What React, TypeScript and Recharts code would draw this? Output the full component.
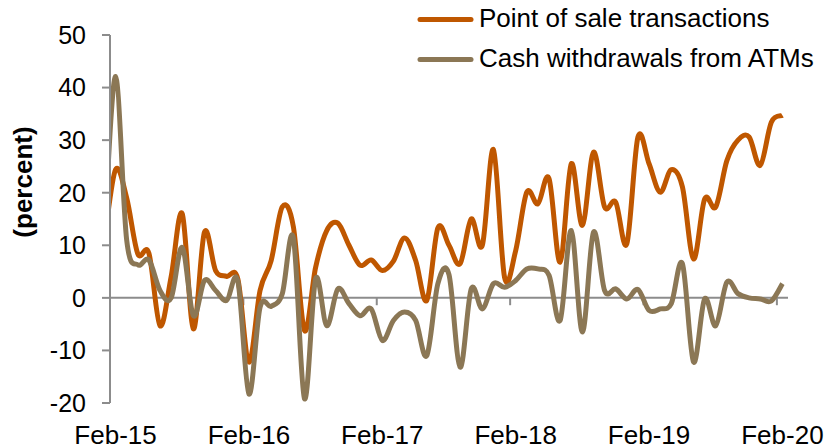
import { LineChart, Line, XAxis, YAxis, Legend, ReferenceLine } from 'recharts';

// Jan-15 .. Feb-20 (Jan-15 sits left of the axis and is clipped away)
const months = [
  'Jan-15', 'Feb-15', 'Mar-15', 'Apr-15', 'May-15', 'Jun-15', 'Jul-15', 'Aug-15', 'Sep-15', 'Oct-15', 'Nov-15', 'Dec-15',
  'Jan-16', 'Feb-16', 'Mar-16', 'Apr-16', 'May-16', 'Jun-16', 'Jul-16', 'Aug-16', 'Sep-16', 'Oct-16', 'Nov-16', 'Dec-16',
  'Jan-17', 'Feb-17', 'Mar-17', 'Apr-17', 'May-17', 'Jun-17', 'Jul-17', 'Aug-17', 'Sep-17', 'Oct-17', 'Nov-17', 'Dec-17',
  'Jan-18', 'Feb-18', 'Mar-18', 'Apr-18', 'May-18', 'Jun-18', 'Jul-18', 'Aug-18', 'Sep-18', 'Oct-18', 'Nov-18', 'Dec-18',
  'Jan-19', 'Feb-19', 'Mar-19', 'Apr-19', 'May-19', 'Jun-19', 'Jul-19', 'Aug-19', 'Sep-19', 'Oct-19', 'Nov-19', 'Dec-19',
  'Jan-20', 'Feb-20',
];

const pointOfSale = [
  11, 24.4, 19, 8.4, 8.5, -5.3, 4, 16, -5.9, 12.5, 5.2, 4.1,
  3.6, -12.2, 1.4, 7.1, 17.3, 13.5, -6.2, 5.8, 12.8, 14.2, 10, 6.2,
  7.2, 5.2, 7, 11.4, 7.1, -0.5, 13.3, 10, 6.5, 15, 10, 28.2,
  3.9, 9, 20.1, 17.9, 22.7, 6.8, 25.5, 13.8, 27.7, 17.3, 18.2, 10.3,
  30.6, 25.5, 20.1, 24.4, 21.1, 7.4, 18.8, 17.3, 26.1, 30, 30.6, 25.2,
  33.4, 34.7,
];

const atmWithdrawals = [
  12, 42.1, 11, 6.3, 7.2, 1.4, 0, 9.6, -3.4, 3.3, 1.4, -0.5,
  3.2, -18.3, -1.8, -1.6, 0.8, 11.4, -19.2, 3.6, -5.3, 1.7, -1.1, -3.4,
  -2.1, -8.1, -4.3, -2.7, -4.3, -11, 2.7, 4.4, -13.2, 1.7, -2.1, 2.7,
  2, 3.3, 5.5, 5.5, 4.3, -4.3, 12.8, -6.5, 12.5, 1.4, 1.7, -0.2,
  1.6, -2.4, -2.1, -1.1, 6.5, -12.2, -0.2, -5.3, 3, 0.8, 0, -0.2,
  -0.6, 2.7,
];

const seriesNames = ['Point of sale transactions', 'Cash withdrawals from ATMs'];
const yTicks = [-20, -10, 0, 10, 20, 30, 40, 50];
const xTickLabels = ['Feb-15', 'Feb-16', 'Feb-17', 'Feb-18', 'Feb-19', 'Feb-20'];
const xTickValues = [0, 12, 24, 36, 48, 60];
// category boundaries where Excel puts the small tick marks
const xTickMarks = [-0.5, 11.5, 23.5, 35.5, 47.5, 59.5];

const data = months.map((m, i) => ({
  idx: i - 1,
  month: m,
  pos: pointOfSale[i],
  atm: atmWithdrawals[i],
}));

const FONT = '"Liberation Sans", Arial, Helvetica, sans-serif';
const AXIS = '#8c8c8c';

// Excel-style smoothed line (Catmull-Rom as cubic bezier)
function excelSmooth(context: any) {
  let pts: number[][] = [];
  return {
    areaStart() {},
    areaEnd() {},
    lineStart() {
      pts = [];
    },
    point(x: number, y: number) {
      pts.push([+x, +y]);
    },
    lineEnd() {
      if (!pts.length) return;
      context.moveTo(pts[0][0], pts[0][1]);
      for (let i = 0; i < pts.length - 1; i++) {
        const p0 = pts[i - 1] || pts[i];
        const p1 = pts[i];
        const p2 = pts[i + 1];
        const p3 = pts[i + 2] || p2;
        context.bezierCurveTo(
          p1[0] + (p2[0] - p0[0]) / 6,
          p1[1] + (p2[1] - p0[1]) / 6,
          p2[0] - (p3[0] - p1[0]) / 6,
          p2[1] - (p3[1] - p1[1]) / 6,
          p2[0],
          p2[1],
        );
      }
    },
  };
}

function XTick(props: any) {
  const { x, y, payload } = props;
  const label = xTickLabels[xTickValues.indexOf(payload.value)];
  return (
    <text x={x} y={y + 40.5} textAnchor="middle" fontSize={26} fill="#000" fontFamily={FONT}>
      {label}
    </text>
  );
}

function LegendBox(props: any) {
  const items = [...(props.payload || [])].sort(
    (a: any, b: any) => seriesNames.indexOf(a.value) - seriesNames.indexOf(b.value),
  );
  return (
    <svg width={834} height={80}>
      {items.map((it: any, i: number) => (
        <g key={it.value}>
          <line x1={420} x2={471} y1={19.5 + 40 * i} y2={19.5 + 40 * i} stroke={it.color} strokeWidth={5} strokeLinecap="round" />
          <text x={479} y={27 + 40 * i} fontSize={26} fill="#000" fontFamily={FONT}>
            {it.value}
          </text>
        </g>
      ))}
    </svg>
  );
}

export default function App() {
  return (
    <div style={{ position: 'absolute', left: 0, top: 0, width: 834, height: 448, background: '#fff' }}>
      <LineChart width={834} height={448} data={data} margin={{ top: 35, right: 46, bottom: 0, left: 0 }}>
        <XAxis
          dataKey="idx"
          type="number"
          domain={[-0.5, 60.5]}
          allowDataOverflow
          ticks={xTickValues}
          interval={0}
          axisLine={false}
          tickLine={false}
          tickSize={0}
          tickMargin={0}
          height={45}
          tick={<XTick />}
        />
        <YAxis
          type="number"
          domain={[-20, 50]}
          ticks={yTicks}
          interval={0}
          width={110}
          tickSize={8}
          tickMargin={16}
          axisLine={{ stroke: AXIS, strokeWidth: 2 }}
          tickLine={{ stroke: AXIS, strokeWidth: 2 }}
          tick={{ fontSize: 25, fill: '#000', fontFamily: FONT }}
          label={(p: any) => {
            const vb = p.viewBox || { x: 0, y: 35 };
            const cx = vb.x + 32;
            const cy = 182;
            return (
              <text x={cx} y={cy} transform={`rotate(-90 ${cx} ${cy})`} textAnchor="middle" fontSize={26} fontWeight="bold" fill="#000" fontFamily={FONT}>
                (percent)
              </text>
            );
          }}
        />
        <ReferenceLine y={0} stroke={AXIS} strokeWidth={2} zIndex={-10} />
        {xTickMarks.map((b) => (
          <ReferenceLine
            key={b}
            segment={[{ x: b, y: 0 }, { x: b, y: -1.4 }]}
            stroke={AXIS}
            strokeWidth={2}
            zIndex={-10}
          />
        ))}
        <Legend
          layout="vertical"
          align="center"
          verticalAlign="middle"
          wrapperStyle={{ top: 0, left: 0, width: 834, height: 80 }}
          content={<LegendBox />}
        />
        <Line
          dataKey="pos"
          name={seriesNames[0]}
          type={excelSmooth as any}
          stroke="#BF5700"
          strokeWidth={5}
          dot={false}
          activeDot={false}
          isAnimationActive={false}
        />
        <Line
          dataKey="atm"
          name={seriesNames[1]}
          type={excelSmooth as any}
          stroke="#8B7755"
          strokeWidth={5}
          dot={false}
          activeDot={false}
          isAnimationActive={false}
        />
      </LineChart>
    </div>
  );
}
